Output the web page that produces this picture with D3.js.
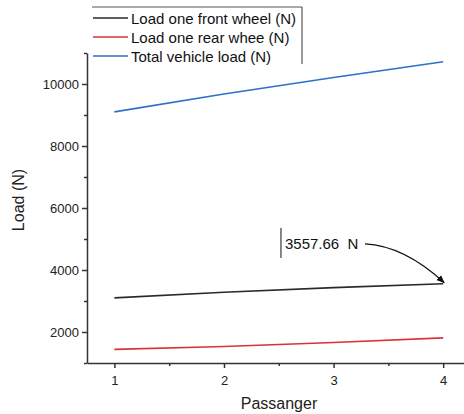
<!DOCTYPE html>
<html>
<head>
<meta charset="utf-8">
<script src="https://cdn.jsdelivr.net/npm/d3@7"></script>
<style>
  body { margin: 0; background: #fff; }
  text { font-family: "Liberation Sans", Arial, sans-serif; }
</style>
</head>
<body>
<div id="chart"></div>
<script>
// data
const passengers = [1, 2, 3, 4];
const frontWheel = [3100, 3280, 3430, 3557.66];
const rearWheel = [1440, 1530, 1660, 1810];
const totalLoad = [9100, 9680, 10210, 10720];
const seriesNames = ["Load one front wheel (N)", "Load one rear whee (N)", "Total vehicle load (N)"];
const yTicks = [2000, 4000, 6000, 8000, 10000];
const annotationText = "3557.66  N";

function drawChart() {
    const width = 464, height = 414;
    const margin = {top: 53, right: 0, bottom: 51, left: 87};

    const svg = d3.select("#chart")
        .append("svg")
            .attr("width", width)
            .attr("height", height);

    const x = d3.scaleLinear()
        .domain([0.75, 4.19])
        .range([margin.left, width - margin.right]);

    const y = d3.scaleLinear()
        .domain([1000, 11000])
        .range([height - margin.bottom, margin.top]);

    const colors = ["#2a2a2a", "#d9333a", "#2f6fc7"];
    const allSeries = [frontWheel, rearWheel, totalLoad];

    // x axis
    const xAxis = svg.append("g")
        .attr("transform", "translate(0," + y(1000) + ")")
        .call(d3.axisBottom(x).tickValues(passengers).tickFormat(d3.format("d")).tickSize(5).tickSizeOuter(0));
    xAxis.append("g")
        .call(d3.axisBottom(x).tickValues([1.5, 2.5, 3.5]).tickFormat("").tickSize(3).tickSizeOuter(0))
        .select(".domain").remove();

    // y axis
    const yAxis = svg.append("g")
        .attr("transform", "translate(" + x(0.75) + ",0)")
        .call(d3.axisLeft(y).tickValues(yTicks).tickFormat(d3.format("d")).tickSize(5).tickSizeOuter(0));
    yAxis.append("g")
        .call(d3.axisLeft(y).tickValues([1000, 3000, 5000, 7000, 9000, 11000]).tickFormat("").tickSize(3).tickSizeOuter(0))
        .select(".domain").remove();

    svg.selectAll(".domain, .tick line")
        .attr("stroke", "#333")
        .attr("stroke-width", 1.5);
    svg.selectAll(".tick text")
        .style("font-size", "13px")
        .attr("fill", "#222");
    xAxis.selectAll(".tick text").attr("dy", "1.1em");

    // lines
    const line = d3.line()
        .x((d, i) => x(passengers[i]))
        .y(d => y(d));

    svg.selectAll(".series")
        .data(allSeries)
        .join("path")
            .attr("class", "series")
            .attr("fill", "none")
            .attr("stroke", (d, i) => colors[i])
            .attr("stroke-width", 1.6)
            .attr("d", line);

    // axis titles
    svg.append("text")
        .attr("x", 279)
        .attr("y", 409)
        .attr("text-anchor", "middle")
        .style("font-size", "16px")
        .attr("fill", "#222")
        .text("Passanger");

    svg.append("text")
        .attr("transform", "translate(24,200) rotate(-90)")
        .attr("text-anchor", "middle")
        .style("font-size", "16px")
        .attr("fill", "#222")
        .text("Load (N)");

    // legend
    const legend = svg.append("g");
    legend.append("line")
        .attr("x1", 92).attr("x2", 302)
        .attr("y1", 7).attr("y2", 7)
        .attr("stroke", "#555").attr("stroke-width", 1);
    legend.append("line")
        .attr("x1", 302).attr("x2", 302)
        .attr("y1", 7).attr("y2", 64)
        .attr("stroke", "#333").attr("stroke-width", 1);

    const items = legend.selectAll(".item")
        .data(seriesNames)
        .join("g")
            .attr("class", "item")
            .attr("transform", (d, i) => "translate(0," + (18 + i * 19) + ")");
    items.append("line")
        .attr("x1", 93).attr("x2", 128)
        .attr("stroke", (d, i) => colors[i])
        .attr("stroke-width", 1.5);
    items.append("text")
        .attr("x", 131)
        .attr("y", 5.5)
        .style("font-size", "15px")
        .attr("fill", "#111")
        .text(d => d);

    // annotation
    const ax = x(2.52), ay = y(4680);
    svg.append("line")
        .attr("x1", ax).attr("x2", ax)
        .attr("y1", ay - 21).attr("y2", ay + 9)
        .attr("stroke", "#111").attr("stroke-width", 1);
    svg.append("text")
        .attr("x", ax + 4)
        .attr("y", ay)
        .attr("xml:space", "preserve")
        .style("white-space", "pre")
        .style("font-size", "15px")
        .attr("fill", "#111")
        .text(annotationText);

    svg.append("defs").append("marker")
        .attr("id", "arrow")
        .attr("viewBox", "0 0 10 10")
        .attr("refX", 9).attr("refY", 5)
        .attr("markerWidth", 7).attr("markerHeight", 7)
        .attr("orient", "auto")
        .append("path")
            .attr("d", "M0,1 L10,5 L0,9 Z")
            .attr("fill", "#111");

    const ex = x(4) + 1, ey = y(frontWheel[3]) - 1;
    const sx = ax + 84, sy = ay - 5;
    svg.append("path")
        .attr("d", "M" + sx + "," + sy + " Q" + (ex - 40) + "," + (sy + 2) + " " + ex + "," + ey)
        .attr("fill", "none")
        .attr("stroke", "#111")
        .attr("stroke-width", 1.2)
        .attr("marker-end", "url(#arrow)");
}

drawChart();
</script>
</body>
</html>
